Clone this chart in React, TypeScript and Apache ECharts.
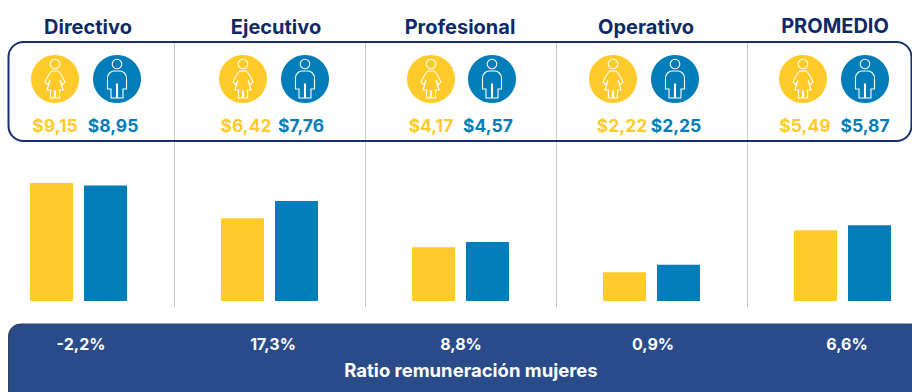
import React, { useEffect, useRef } from "react";
import * as echarts from "echarts";

const categories = ["Directivo", "Ejecutivo", "Profesional", "Operativo", "PROMEDIO"];
const womenLabels = ["$9,15", "$6,42", "$4,17", "$2,22", "$5,49"];
const menLabels = ["$8,95", "$7,76", "$4,57", "$2,25", "$5,87"];
const womenBars = [9.15, 6.42, 4.17, 2.22, 5.49];
const menBars = [8.95, 7.76, 4.57, 2.82, 5.87];
const ratios = ["-2,2%", "17,3%", "8,8%", "0,9%", "6,6%"];
const ratioTitle = "Ratio remuneración mujeres";

const headerX = [88, 276, 460, 646, 835];
const headerY = [27, 27, 27, 27, 26];
const womanIconX = [55, 243, 431, 613, 803];
const manIconX = [117, 305, 492, 675, 865];
const womanLabelX = [55, 246, 431, 622, 805];
const manLabelX = [113, 301, 488, 676, 865];
const ratioX = [81, 273, 461, 653, 847];

const YELLOW = "#FFCB2B";
const BLUE = "#017DB9";
const NAVY = "#0F2A66";
const FONT = "Inter, 'Open Sans', sans-serif";

const HEAD = "M4.8,-15 A4.8,4.8 0 1 1 -4.8,-15 A4.8,4.8 0 1 1 4.8,-15 Z ";
echarts.graphic.registerShape(
  "womanIcon",
  echarts.graphic.extendPath(
    HEAD +
      "M-2.5,-8 L2.5,-8 C5,-8 7,-3 10,3 L7,6 L5,1 L8,11 L4.5,11 L4.5,19 L0.5,19 L0.5,12 L-0.5,12 L-0.5,19 L-4.5,19 L-4.5,11 L-8,11 L-5,1 L-7,6 L-10,3 C-7,-3 -5,-8 -2.5,-8 Z",
    {}
  )
);
echarts.graphic.registerShape(
  "manIcon",
  echarts.graphic.extendPath(
    HEAD +
      "M-9.5,10 L-9.5,-1 C-9.5,-5 -6,-8 -3,-8 L3,-8 C6,-8 9.5,-5 9.5,-1 L9.5,10 L6,10 L6,19 L0.5,19 L0.5,5 L-0.5,5 L-0.5,19 L-6,19 L-6,10 Z",
    {}
  )
);

function icon(type: string, x: number, fill: string) {
  return {
    type: "group",
    x,
    y: 79,
    children: [
      { type: "circle", shape: { cx: 0, cy: 0, r: 24 }, style: { fill } },
      { type, style: { fill: "none", stroke: "#fff", lineWidth: 1.1 } },
    ],
  };
}

function label(text: string, x: number, y: number, fontSize: number, fill: string) {
  return {
    type: "text",
    x,
    y,
    style: { text, fill, font: `700 ${fontSize}px ${FONT}`, align: "center", verticalAlign: "middle" },
  };
}

export default function App() {
  const ref = useRef<HTMLDivElement>(null);
  useEffect(() => {
    document.body.style.margin = "0";
    const chart = echarts.init(ref.current!, null, { renderer: "svg" });
    chart.setOption({
      animation: false,
      backgroundColor: "#fff",
      grid: { left: -17, width: 955, top: 42, height: 265, containLabel: false, outerBoundsMode: "none" },
      xAxis: {
        type: "category",
        data: categories,
        axisLine: { show: false },
        axisTick: { show: false },
        axisLabel: { show: false },
        splitLine: { show: true, lineStyle: { color: "#C9C9C9", width: 1 } },
      },
      yAxis: { type: "value", min: -0.465, max: 20.08, show: false, splitLine: { show: false } },
      series: [
        { type: "bar", data: womenBars, barWidth: 43, barGap: "25.6%", itemStyle: { color: YELLOW }, z: 3 },
        { type: "bar", data: menBars, barWidth: 43, itemStyle: { color: BLUE }, z: 3 },
      ],
      graphic: [
        {
          type: "rect",
          shape: { x: 8.5, y: 42, width: 903, height: 99, r: 15 },
          style: { fill: "none", stroke: "#16306F", lineWidth: 2 },
          z: 5,
        },
        {
          type: "rect",
          shape: { x: 8.5, y: 324, width: 915, height: 80, r: 12 },
          style: { fill: "#2A4B8A", stroke: "#333F55", lineWidth: 1 },
          z: 5,
        },
        ...categories.map((c, i) => ({ ...label(c, headerX[i], headerY[i], 20, NAVY), z: 6 })),
        ...womanIconX.map((x) => ({ ...icon("womanIcon", x, YELLOW), z: 6 })),
        ...manIconX.map((x) => ({ ...icon("manIcon", x, BLUE), z: 6 })),
        ...womenLabels.map((t, i) => ({ ...label(t, womanLabelX[i], 125, 17.5, YELLOW), z: 6 })),
        ...menLabels.map((t, i) => ({ ...label(t, manLabelX[i], 125, 17.5, BLUE), z: 6 })),
        ...ratios.map((t, i) => ({ ...label(t, ratioX[i], 344, 16, "#fff"), z: 6 })),
        { ...label(ratioTitle, 471, 370, 18.5, "#fff"), z: 6 },
      ],
    });
    return () => chart.dispose();
  }, []);
  return <div ref={ref} style={{ width: 912, height: 392, position: "absolute", left: 0, top: 0, overflow: "hidden" }} />;
}
